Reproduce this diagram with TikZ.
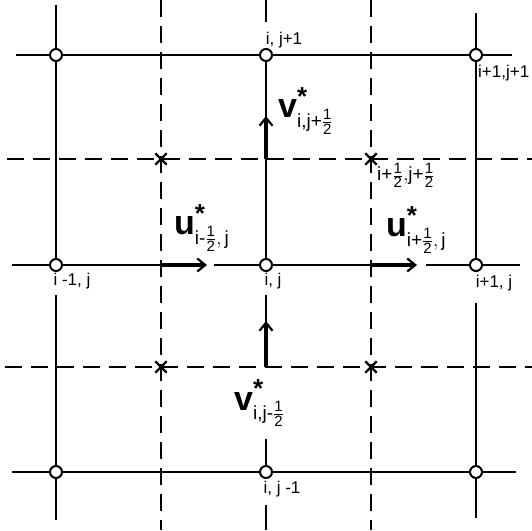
\RequirePackage{fix-cm}
\documentclass[tikz,border=0pt]{standalone}
\usepackage{amsmath}
\usepackage{fontspec}
\setmainfont{Liberation Sans}
\DeclareMathSizes{34}{34}{19}{15}
\usetikzlibrary{arrows.meta, shapes.misc}

\begin{document}
\begin{tikzpicture}[
    x=1pt, y=1pt,
    pt/.style={circle, draw, fill=white, line width=2pt, minimum size=12pt, inner sep=0pt},
    cr/.style={cross out, draw, line width=2.4pt, minimum size=9pt, inner sep=0pt},
    grid/.style={line width=1.7pt},
    half/.style={line width=1.5pt, dash pattern=on 17pt off 9pt},
    flow/.style={line width=4pt, -{Straight Barb[length=8pt,width=13pt,line width=2.2pt]}},
    lab/.style={font=\fontsize{17}{17}\selectfont, inner sep=1pt},
    vec/.style={font=\fontsize{34}{34}\selectfont, inner sep=0pt}
]
    \useasboundingbox (0,0) rectangle (532,530);

    % cell centres
    \node (imjp) [pt] at (56,475) {};
    \node (ijp)  [pt] at (266,475) {};
    \node (ipjp) [pt] at (476,475) {};
    \node (imj)  [pt] at (56,265) {};
    \node (ij)   [pt] at (266,265) {};
    \node (ipj)  [pt] at (476,265) {};
    \node (imjm) [pt] at (56,58) {};
    \node (ijm)  [pt] at (266,58) {};
    \node (ipjm) [pt] at (476,58) {};

    % cell corners and faces
    \node (cnw) [cr] at (161,371) {};
    \node (cne) [cr] at (371,371) {};
    \node (csw) [cr] at (161,163) {};
    \node (cse) [cr] at (371,163) {};
    \coordinate (uw) at (161,265);
    \coordinate (ue) at (371,265);
    \coordinate (vn) at (266,371);
    \coordinate (vs) at (266,163);

    % dashed half-cell lines
    \draw [half] ([yshift=159pt]cnw.center) -- ([yshift=-163pt]csw.center);
    \draw [half] ([yshift=159pt]cne.center) -- ([yshift=-163pt]cse.center);
    \draw [half] ([xshift=-154pt]cnw.center) -- ([xshift=161pt]cne.center);
    \draw [half] ([xshift=-156pt]csw.center) -- ([xshift=161pt]cse.center);

    % grid lines
    \draw [grid] ([xshift=-40pt]imjp.center) -- (imjp) -- (ijp) -- (ipjp) -- ([xshift=36pt]ipjp.center);
    \draw [grid] ([xshift=-44pt]imj.center) -- (imj) -- (uw);
    \draw [grid] ([xshift=53pt]uw) -- (ij) -- (ue);
    \draw [grid] ([xshift=55pt]ue) -- (ipj) -- ([xshift=44pt]ipj.center);
    \draw [grid] ([xshift=-44pt]imjm.center) -- (imjm) -- (ijm) -- (ipjm) -- ([xshift=40pt]ipjm.center);

    \draw [grid] ([yshift=50pt]imjp.center) -- (imjp) -- (imj);
    \draw [grid] ([yshift=-30pt]imj.center) -- (imjm) -- ([yshift=-48pt]imjm.center);
    \draw [grid] ([yshift=55pt]ijp.center) -- ([yshift=33pt]ijp.center);
    \draw [grid] (ijp) -- (vn) -- (ij);
    \draw [grid] ([yshift=-30pt]ij.center) -- (vs);
    \draw [grid] ([yshift=-72pt]vs) -- (ijm);
    \draw [grid] ([yshift=-33pt]ijm.center) -- ([yshift=-58pt]ijm.center);
    \draw [grid] ([yshift=42pt]ipjp.center) -- (ipjp) -- (ipj);
    \draw [grid] ([yshift=-38pt]ipj.center) -- (ipjm) -- ([yshift=-46pt]ipjm.center);

    % starred velocities
    \draw [flow] (uw) -- ([xshift=46pt]uw);
    \draw [flow] (ue) -- ([xshift=46pt]ue);
    \draw [flow] (vn) -- ([yshift=43pt]vn);
    \draw [flow] (vs) -- ([yshift=46pt]vs);

    \node (ulw) [vec, anchor=base west] at (174,295) {$\mathbf{u}^{\mbox{\fontsize{26}{26}\selectfont\bfseries *}}_{\text{i-}\frac{\text{1}}{\text{2}},\,\text{j}}$};
    \node (ule) [vec, anchor=base west] at (386,293) {$\mathbf{u}^{\mbox{\fontsize{26}{26}\selectfont\bfseries *}}_{\text{i+}\frac{\text{1}}{\text{2}},\,\text{j}}$};
    \node (vln) [vec, anchor=base west] at (278,412) {$\mathbf{v}^{\mbox{\fontsize{26}{26}\selectfont\bfseries *}}_{\text{i,j+}\frac{\text{1}}{\text{2}}}$};
    \node (vls) [vec, anchor=base west] at (234,120) {$\mathbf{v}^{\mbox{\fontsize{26}{26}\selectfont\bfseries *}}_{\text{i,j-}\frac{\text{1}}{\text{2}}}$};
    \node (cnel) [vec, anchor=base west] at (377,349) {$\scriptstyle\text{i+}\frac{\text{1}}{\text{2}},\text{j+}\frac{\text{1}}{\text{2}}$};

    % point labels
    \node (lijp)  [lab] at (284,490) {i, j+1};
    \node (lipjp) [lab, anchor=west] at (477,457) {i+1,j+1};
    \node (limj)  [lab] at (72,249) {i -1, j};
    \node (lij)   [lab] at (273,249) {i, j};
    \node (lipj)  [lab] at (494,247) {i+1, j};
    \node (lijm)  [lab] at (282,41) {i, j -1};
\end{tikzpicture}
\end{document}
